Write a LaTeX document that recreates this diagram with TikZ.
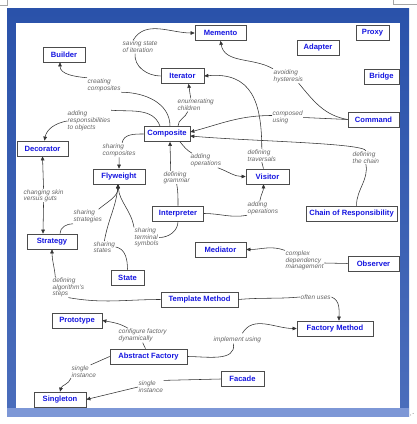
\documentclass[tikz,border=0pt]{standalone}
\usepackage{fontspec}
\setmainfont{Liberation Sans}
\usepackage{tikz}
\usetikzlibrary{arrows.meta}
\definecolor{frameblue}{HTML}{2A52AA}
\definecolor{stripblue}{HTML}{7D97D6}
\definecolor{nameblue}{HTML}{1515E0}
\begin{document}
\begin{tikzpicture}[x=1pt,y=1pt,
pbox/.style={draw=black!70,line width=0.7pt,fill=white,minimum height=15pt,inner sep=0pt,text=nameblue,font=\bfseries\fontsize{7.6}{8}\selectfont},
note/.style={anchor=west,inner sep=0.5pt,align=left,text=black!60,font=\itshape\fontsize{6.5}{5.7}\selectfont},
link/.style={black!80,line width=0.55pt},
arr/.style={link,-{Triangle[length=4pt,width=3.6pt]}}]
\useasboundingbox(0,0)rectangle(417,424);
\shade[top color=frameblue,bottom color=frameblue!60!stripblue](7,7)rectangle(409,415);
\fill[stripblue](7,7)rectangle(409,16);
\fill[white](16,16)rectangle(400,401);
\draw[black!35,line width=0.5pt](0,419)--(7,419)--(7,424)
(393,424)--(393,420)--(417,420);
\fill[black!50](410.5,9)circle(0.5)(413,10.5)circle(0.5);
\node[pbox,minimum width=51pt](memento)at(220.5,391){Memento};
\node[pbox,minimum width=33pt](proxy)at(372.5,391){Proxy};
\node[pbox,minimum width=42pt](adapter)at(318,376.5){Adapter};
\node[pbox,minimum width=35pt](bridge)at(381.5,347.5){Bridge};
\node[pbox,minimum width=51pt](command)at(373.5,304.5){Command};
\node[pbox,minimum width=42pt](builder)at(64,369.5){Builder};
\node[pbox,minimum width=43pt](iterator)at(182.5,348){Iterator};
\node[pbox,minimum width=46pt](composite)at(167,290){Composite};
\node[pbox,minimum width=51pt](decorator)at(42.5,275.5){Decorator};
\node[pbox,minimum width=52pt](flyweight)at(119,247.5){Flyweight};
\node[pbox,minimum width=43pt](visitor)at(267.5,247.5){Visitor};
\node[pbox,minimum width=51pt](interpreter)at(178,210.5){Interpreter};
\node[pbox,minimum width=91pt](chain)at(351.5,210.5){Chain of Responsibility};
\node[pbox,minimum width=50pt](strategy)at(52,182.5){Strategy};
\node[pbox,minimum width=51pt](mediator)at(220.5,174.5){Mediator};
\node[pbox,minimum width=51pt](observer)at(373.5,160.5){Observer};
\node[pbox,minimum width=33pt](state)at(127.5,146.5){State};
\node[pbox,minimum width=77pt](templ)at(199.5,124.5){Template Method};
\node[pbox,minimum width=50pt](prototype)at(77,103.5){Prototype};
\node[pbox,minimum width=76pt](factory)at(335,95.5){Factory Method};
\node[pbox,minimum width=77pt](abstract)at(148.5,67.5){Abstract Factory};
\node[pbox,minimum width=43pt](facade)at(242.5,45){Facade};
\node[pbox,minimum width=52pt](singleton)at(60,24.5){Singleton};
%% labels
\node[note](saving)at(122,377){saving state\\of iteration};
\node[note](creating)at(87,339){creating\\composites};
\node[note](enum)at(177,319){enumerating\\children};
\node[note](addresp)at(67,303){adding\\responsibilities\\to objects};
\node[note](avoiding)at(273,348){avoiding\\hysteresis};
\node[note](composed)at(272,306.5){composed\\using};
\node[note](sharcomp)at(102,274){sharing\\composites};
\node[note](addop1)at(190,263.5){adding\\operations};
\node[note](deftrav)at(247,268.5){defining\\traversals};
\node[note](defchain)at(352,266.5){defining\\the chain};
\node[note](defgram)at(163,246.5){defining\\grammar};
\node[note](changing)at(23,228.5){changing skin\\versus guts};
\node[note](sharstrat)at(73,207.5){sharing\\strategies};
\node[note](addop2)at(247,216){adding\\operations};
\node[note](sharterm)at(134,186.5){sharing\\terminal\\symbols};
\node[note](sharstates)at(93,177){sharing\\states};
\node[note](complex)at(285,163.5){complex\\dependency\\management};
\node[note](defalgo)at(52,136.5){defining\\algorithm's\\steps};
\node[note](often)at(300,127){often uses};
\node[note](config)at(118,88.5){configure factory\\dynamically};
\node[note](implement)at(213,84){implement using};
\node[note](single1)at(71,52.5){single\\instance};
\node[note](single2)at(138,37){single\\instance};
%% connectors
\draw[link](iterator.west)to[out=180,in=-95]([xshift=-5pt]saving.south);
\draw[arr]([xshift=-7pt]saving.north)to[out=60,in=180](memento.west);
\draw[arr](creating.north west)to[out=175,in=-90]([xshift=-4pt]builder.south);
\draw[link](creating.south east)to[out=0,in=90]([xshift=3pt]composite.north);
\draw[link]([xshift=11pt]composite.north)to[out=90,in=-110]([xshift=-8pt]enum.south);
\draw[arr]([xshift=-5pt]enum.north)to[out=100,in=-80]([xshift=6pt]iterator.south);
\draw[link](addresp.north east)to[out=-5,in=110]([xshift=-7pt]composite.north);
\draw[arr](addresp.west)to[out=190,in=80]([xshift=2pt]decorator.north);
\draw[link](command.west)to[out=170,in=-50]([xshift=-5pt]avoiding.south east);
\draw[arr](avoiding.north west)to[out=150,in=-80](memento.south);
\draw[link](command.west)--(composed.east);
\draw[arr]([yshift=2pt]composed.west)to[out=180,in=15]([yshift=2pt]composite.east);
\draw[link]([xshift=5pt]chain.north)to[out=90,in=-80](defchain.south);
\draw[arr](defchain.north)to[out=100,in=-5,out distance=8pt,in distance=60pt]([yshift=-2pt]composite.east);
\draw[link](deftrav.south)--([xshift=-4pt]visitor.north);
\draw[arr](deftrav.north)to[out=90,in=5,looseness=1.3](iterator.east);
\draw[link]([xshift=13pt]composite.south)to[out=-50,in=150]([xshift=2pt]addop1.north west);
\draw[arr]([xshift=-4pt]addop1.south east)to[out=-20,in=180](visitor.west);
\draw[link](interpreter.east)to[out=0,in=190](addop2.south west);
\draw[arr]([xshift=-3pt]addop2.north)to[out=80,in=-90]([xshift=-4pt]visitor.south);
\draw[link](interpreter.north)to[out=90,in=-80](defgram.south);
\draw[arr]([xshift=-6pt]defgram.north)--([xshift=3pt]composite.south);
\draw[link](composite.west)to[out=180,in=80]([xshift=3pt]sharcomp.north);
\draw[arr](sharcomp.south)--(flyweight.north);
\draw[arr](changing.north)--(decorator.south);
\draw[arr](changing.south)--([xshift=-9pt]strategy.north);
\draw[link]([xshift=8pt]strategy.north)to[out=90,in=180](sharstrat.south west);
\draw[arr]([xshift=-4pt]sharstrat.north east)to[out=40,in=-90]([xshift=-1pt]flyweight.south);
\draw[arr](sharstates.north)to[out=80,in=-95]([xshift=-1pt]flyweight.south);
\draw[link](sharstates.east)to[out=-10,in=90](state.north);
\draw[arr](sharterm.north west)to[out=100,in=-85]([xshift=-1pt]flyweight.south);
\draw[link](sharterm.east)to[out=0,in=-90](interpreter.south);
\draw[link](observer.west)--([yshift=-2.5pt]complex.east);
\draw[arr](complex.north west)to[out=160,in=0](mediator.east);
\draw[arr]([xshift=-13pt]defalgo.north)to[out=95,in=-90](strategy.south);
\draw[link](defalgo.south)to[out=-10,in=180](templ.west);
\draw[link](templ.east)to[out=5,in=185](often.west);
\draw[arr](often.east)to[out=-20,in=90]([xshift=4pt]factory.north);
\draw[arr]([xshift=10pt]config.north west)to[out=150,in=-10](prototype.east);
\draw[link](config.south)--([xshift=-3pt]abstract.north);
\draw[link](abstract.east)to[out=0,in=-80]([xshift=-4pt]implement.south);
\draw[arr]([xshift=5pt,yshift=3pt]implement.north)to[out=60,in=180](factory.west);
\draw[link](abstract.west)--([xshift=-6pt]single1.north east);
\draw[arr](single1.south west)to[out=-110,in=75](singleton.north);
\draw[link](facade.west)--(single2.north east);
\draw[arr](single2.west)--(singleton.east);
\end{tikzpicture}
\end{document}
